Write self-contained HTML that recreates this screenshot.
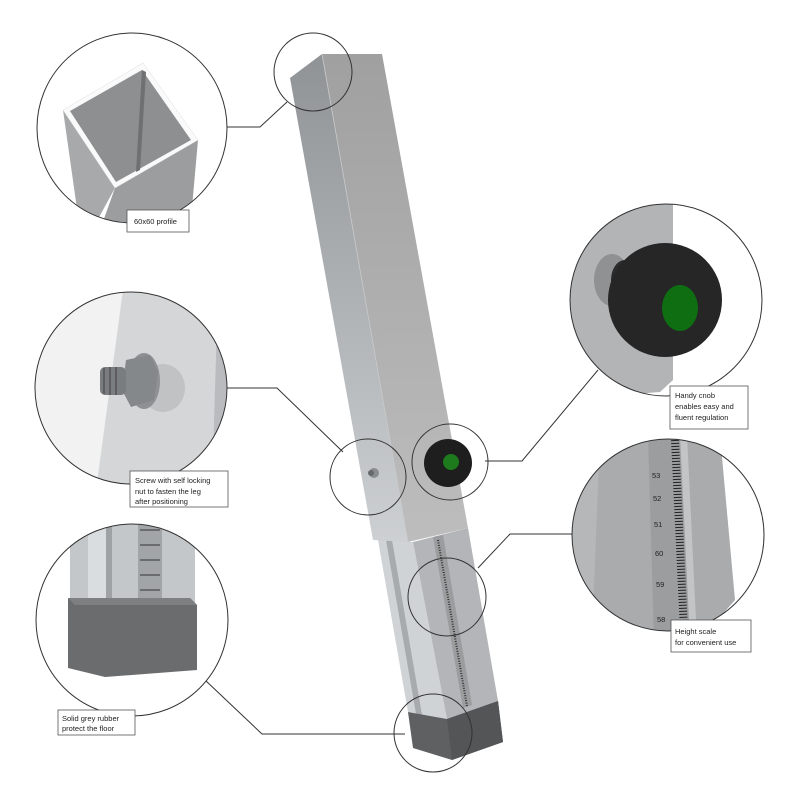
<!DOCTYPE html>
<html><head><meta charset="utf-8"><style>
html,body{margin:0;padding:0;background:#fff;}
svg{display:block}
text{font-family:"Liberation Sans",sans-serif;font-size:7.5px;fill:#222}
</style></head><body>
<svg width="800" height="800" viewBox="0 0 800 800" xmlns="http://www.w3.org/2000/svg">
<defs>
<linearGradient id="lf" x1="0" y1="0" x2="0" y2="1"><stop offset="0" stop-color="#8f9396"/><stop offset="1" stop-color="#cdd0d3"/></linearGradient>
<linearGradient id="rf" x1="0" y1="0" x2="0" y2="1"><stop offset="0" stop-color="#a0a0a0"/><stop offset="1" stop-color="#bdbdbd"/></linearGradient>
<clipPath id="c1"><circle cx="132" cy="128" r="95"/></clipPath>
<clipPath id="c2"><circle cx="131" cy="388" r="96"/></clipPath>
<clipPath id="c3"><circle cx="132" cy="620" r="96"/></clipPath>
<clipPath id="c4"><circle cx="666" cy="300" r="96"/></clipPath>
<clipPath id="c5"><circle cx="668" cy="535" r="96"/></clipPath>
</defs>

<!-- connectors -->
<g stroke="#333" stroke-width="1" fill="none">
<polyline points="227,127 260,127 287,102"/>
<polyline points="227,388 277,388 343,452"/>
<polyline points="205,680 262,734 405,734"/>
<polyline points="598,370 522,461 485,461"/>
<polyline points="572,534 510,534 478,568"/>
</g>

<!-- inner tube -->
<polygon points="378,540 413,542 447,719 408,712" fill="#cfd3d6"/>
<polygon points="413,542 468,528 498,701 447,719" fill="#b3b5b8"/>
<polygon points="386,540 392,540 422,715 416,714" fill="#a8abae"/>
<polygon points="433,537 443,535 472,705 463,708" fill="#9a9c9e"/>
<line x1="438" y1="540" x2="467" y2="706" stroke="#333" stroke-width="2" stroke-dasharray="1,1.5"/>
<!-- outer tube -->
<polygon points="290,78 322,54 408,542 373,540" fill="url(#lf)"/>
<polygon points="322,54 382,54 468,528 408,542" fill="url(#rf)"/>
<line x1="322" y1="54" x2="408" y2="542" stroke="#c8cacc" stroke-width="0.8"/>
<!-- rubber cap -->
<polygon points="408,712 447,719 498,701 503,742 452,760 413,748" fill="#5e6062"/>
<polygon points="447,719 498,701 503,742 452,760" fill="#535557"/>
<!-- screw -->
<circle cx="374" cy="473" r="5" fill="#8a8d90"/><circle cx="371" cy="473" r="3" fill="#66696c"/>
<!-- knob -->
<circle cx="448" cy="463" r="24" fill="#1e1e1e"/>
<circle cx="451" cy="462" r="8" fill="#1d7a1d"/>

<!-- small circles -->
<g fill="none" stroke="#333" stroke-width="1">
<circle cx="313" cy="72" r="39"/>
<circle cx="368" cy="477" r="38"/>
<circle cx="450" cy="462" r="38"/>
<circle cx="447" cy="597" r="39"/>
<circle cx="433" cy="733" r="39"/>
</g>

<!-- big circle 1: profile -->
<g clip-path="url(#c1)">
<rect x="30" y="30" width="210" height="200" fill="#fff"/>
<polygon points="63,110 115,188 92,230 80,230" fill="#a8a9aa"/>
<polygon points="115,188 198,140 190,230 100,230" fill="#9c9d9e"/>
<polygon points="63,110 143,63 198,140 115,188" fill="#fafafa" stroke="#ddd" stroke-width="0.5"/>
<polygon points="70,111 142,70 191,140 116,182" fill="#8d8f91"/>
<polygon points="142,70 146,72 140,170 136,172" fill="#6e7072"/>
</g>
<circle cx="132" cy="128" r="95" fill="none" stroke="#333"/>

<!-- big circle 2: screw -->
<g clip-path="url(#c2)">
<rect x="30" y="290" width="210" height="200" fill="#f2f2f2"/>
<polygon points="123,290 240,290 240,490 96,490" fill="#d4d6d8"/>
<polygon points="218,290 240,290 240,490 212,490" fill="#b9bbbe"/>
<ellipse cx="163" cy="388" rx="22" ry="24" fill="#c0c2c4"/>
<ellipse cx="144" cy="381" rx="16" ry="28" fill="#8e9093"/>
<polygon points="126,360 150,355 158,372 154,400 131,407 122,390" fill="#85888b"/>
<rect x="100" y="367" width="26" height="28" rx="5" fill="#7a7d80"/>
<g stroke="#555" stroke-width="1.5"><line x1="104" y1="368" x2="104" y2="394"/><line x1="110" y1="367" x2="110" y2="395"/><line x1="116" y1="367" x2="116" y2="395"/></g>
</g>
<circle cx="131" cy="388" r="96" fill="none" stroke="#333"/>

<!-- big circle 3: rubber -->
<g clip-path="url(#c3)">
<rect x="30" y="520" width="210" height="200" fill="#fff"/>
<rect x="70" y="520" width="125" height="90" fill="#c4c7ca"/>
<rect x="88" y="520" width="18" height="90" fill="#d9dde0"/>
<rect x="106" y="520" width="6" height="90" fill="#9fa2a5"/>
<rect x="138" y="520" width="24" height="90" fill="#a2a5a8"/>
<g stroke="#333" stroke-width="1">
<line x1="140" y1="530" x2="160" y2="530"/><line x1="140" y1="545" x2="160" y2="545"/><line x1="140" y1="560" x2="160" y2="560"/><line x1="140" y1="575" x2="160" y2="575"/><line x1="140" y1="590" x2="160" y2="590"/>
</g>
<polygon points="68,598 190,598 197,605 197,670 105,677 68,668" fill="#6a6c6e"/>
<polygon points="68,598 190,598 197,605 75,605" fill="#7d7f81"/>
</g>
<circle cx="132" cy="620" r="96" fill="none" stroke="#333"/>

<!-- big circle 4: knob -->
<g clip-path="url(#c4)">
<rect x="560" y="200" width="210" height="200" fill="#fff"/>
<polygon points="560,200 673,200 673,380 660,392 560,400" fill="#b2b4b6"/>
<ellipse cx="612" cy="280" rx="18" ry="26" fill="#8f9193"/>
<ellipse cx="625" cy="280" rx="14" ry="20" fill="#2b2b2b"/>
<ellipse cx="665" cy="300" rx="57" ry="57" fill="#262626"/>
<ellipse cx="680" cy="308" rx="18" ry="23" fill="#0f6e12"/>
</g>
<circle cx="666" cy="300" r="96" fill="none" stroke="#333"/>

<!-- big circle 5: scale -->
<g clip-path="url(#c5)">
<rect x="565" y="435" width="210" height="205" fill="#fff"/>
<polygon points="565,435 720,435 735,600 700,640 565,640" fill="#a9abad"/>
<polygon points="565,435 600,435 592,640 565,640" fill="#b5b7b9"/>
<polygon points="648,435 680,435 690,640 654,640" fill="#9b9d9f"/>
<polygon points="680,435 687,435 697,640 690,640" fill="#c2c4c6"/>
<line x1="675" y1="440" x2="684" y2="630" stroke="#222" stroke-width="8" stroke-dasharray="1,2"/>
<g font-size="7" fill="#333">
<text x="652" y="478">53</text><text x="653" y="501">52</text><text x="654" y="527">51</text><text x="655" y="556">60</text><text x="656" y="587">59</text><text x="657" y="622">58</text>
</g>
</g>
<circle cx="668" cy="535" r="96" fill="none" stroke="#333"/>

<!-- labels -->
<g fill="#fff" stroke="#555" stroke-width="0.8">
<rect x="127" y="210" width="62" height="22"/>
<rect x="130" y="471" width="98" height="36"/>
<rect x="58" y="710" width="77" height="25"/>
<rect x="670" y="386" width="78" height="43"/>
<rect x="671" y="620" width="80" height="32"/>
</g>
<text x="134" y="224">60x60 profile</text>
<text x="135" y="483">Screw with self locking</text>
<text x="135" y="494">nut to fasten the leg</text>
<text x="135" y="504">after positioning</text>
<text x="62" y="721">Solid grey rubber</text>
<text x="62" y="731">protect the floor</text>
<text x="675" y="398">Handy cnob</text>
<text x="675" y="409">enables easy and</text>
<text x="675" y="420">fluent regulation</text>
<text x="675" y="634">Height scale</text>
<text x="675" y="645">for convenient use</text>
</svg>
</body></html>
